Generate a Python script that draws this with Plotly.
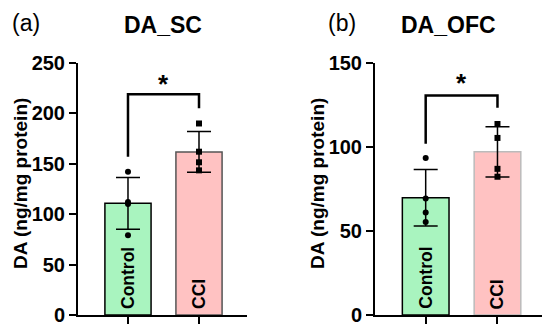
import plotly.graph_objects as go

groups = ["Control", "CCI"]

# Panel (a) DA_SC
sc_means = [110.8, 161.8]
sc_sd = [25.7, 20.3]
sc_ctrl_pts = [142, 112, 110, 79]
sc_cci_pts = [190, 162, 151.5, 143.5]
sc_bracket = [157, 219, 205]  # left end, top, right end
sc_ticks = [0, 50, 100, 150, 200, 250]

# Panel (b) DA_OFC
ofc_means = [69.8, 97.1]
ofc_sd = [16.8, 14.9]
ofc_ctrl_pts = [93.4, 69.4, 61, 55.3]
ofc_cci_pts = [113.7, 105.4, 87, 82.3]
ofc_bracket = [102, 130.6, 123.4]
ofc_ticks = [0, 50, 100, 150]

GREEN = "#A9F4BF"
PINK = "#FFC2C2"
FONT = "Liberation Sans"

# page has an 8px body margin; figure sized to fit the window
W, H, OFF = 542, 322, 8
def px(x):
    return (x - OFF) / W
def py(y):
    return 1 - (y - OFF) / H

fig = go.Figure()

def add_panel(xa, ya, means, sds, ctrl, cci, cci_line):
    fig.add_trace(go.Bar(
        x=groups, y=means, xaxis=xa, yaxis=ya, width=0.65,
        marker=dict(color=[GREEN, PINK],
                    line=dict(color=["#000000", cci_line], width=1.5)),
        error_y=dict(type="data", array=sds, visible=True, color="black",
                     thickness=1.5, width=12),
        showlegend=False, hoverinfo="skip"))
    fig.add_trace(go.Scatter(
        x=[groups[0]] * len(ctrl), y=ctrl, xaxis=xa, yaxis=ya, mode="markers",
        marker=dict(symbol="circle", size=6, color="black"), showlegend=False))
    fig.add_trace(go.Scatter(
        x=[groups[1]] * len(cci), y=cci, xaxis=xa, yaxis=ya, mode="markers",
        marker=dict(symbol="square", size=6, color="black"), showlegend=False))

add_panel("x", "y", sc_means, sc_sd, sc_ctrl_pts, sc_cci_pts, "#555555")
add_panel("x2", "y2", ofc_means, ofc_sd, ofc_ctrl_pts, ofc_cci_pts, "#BBBBBB")

def bracket(xref, yref, b, star_y):
    l, t, r = b
    fig.add_shape(type="path", xref=xref, yref=yref,
                  path=f"M 0,{l} L 0,{t} L 1,{t} L 1,{r}",
                  line=dict(color="black", width=2.5))
    fig.add_annotation(x=0.5, y=star_y, xref=xref, yref=yref, text="<b>*</b>",
                       showarrow=False, font=dict(size=26, color="black", family=FONT))

bracket("x", "y", sc_bracket, 229)
bracket("x2", "y2", ofc_bracket, 138)

axis_common = dict(showline=True, linecolor="black", linewidth=2, ticks="outside",
                   tickwidth=2, ticklen=7, tickcolor="black", showgrid=False,
                   zeroline=False, mirror=False, automargin=False)

ytick_font = dict(family=FONT, size=20, color="black")
ydom = [py(315), py(63)]

fig.update_layout(
    width=W, height=H,
    margin=dict(l=0, r=0, t=0, b=0, pad=0, autoexpand=False),
    paper_bgcolor="white", plot_bgcolor="white",
    showlegend=False,
    xaxis=dict(domain=[px(78), px(247)], anchor="y", type="category",
               range=[-0.704, 1.676], showticklabels=False, **axis_common),
    yaxis=dict(domain=ydom, anchor="x", range=[0, 250],
               tickvals=sc_ticks, ticktext=[f"<b>{t}</b>" for t in sc_ticks],
               tickfont=ytick_font, **axis_common),
    xaxis2=dict(domain=[px(375), px(544)], anchor="y2", type="category",
                range=[-0.706, 1.648], showticklabels=False, **axis_common),
    yaxis2=dict(domain=ydom, anchor="x2", range=[0, 150],
                tickvals=ofc_ticks, ticktext=[f"<b>{t}</b>" for t in ofc_ticks],
                tickfont=ytick_font, **axis_common),
)

# bar labels inside bars
for xa, ya in [("x", "y"), ("x2", "y2")]:
    for g in groups:
        fig.add_annotation(x=g, y=0, xref=xa, yref=ya, text=f"<b>{g}</b>",
                           textangle=-90, yanchor="bottom", yshift=4,
                           showarrow=False,
                           font=dict(size=17.5, color="black", family=FONT))

# titles, panel letters, y labels
for x, title, letter, lx, ylx in [(163, "DA_SC", "(a)", 26, 20),
                                  (448, "DA_OFC", "(b)", 342, 317)]:
    fig.add_annotation(x=px(x), y=py(25), xref="paper", yref="paper", text=f"<b>{title}</b>",
                       showarrow=False, xanchor="center", yanchor="middle",
                       font=dict(size=23, color="black", family=FONT))
    fig.add_annotation(x=px(lx), y=py(23), xref="paper", yref="paper", text=letter,
                       showarrow=False, xanchor="center", yanchor="middle",
                       font=dict(size=23, color="black", family=FONT))
    fig.add_annotation(x=px(ylx), y=py(184), xref="paper", yref="paper",
                       text="<b>DA (ng/mg protein)</b>", textangle=-90,
                       showarrow=False, xanchor="center", yanchor="middle",
                       font=dict(size=19, color="black", family=FONT))

fig.write_html("out.html")
